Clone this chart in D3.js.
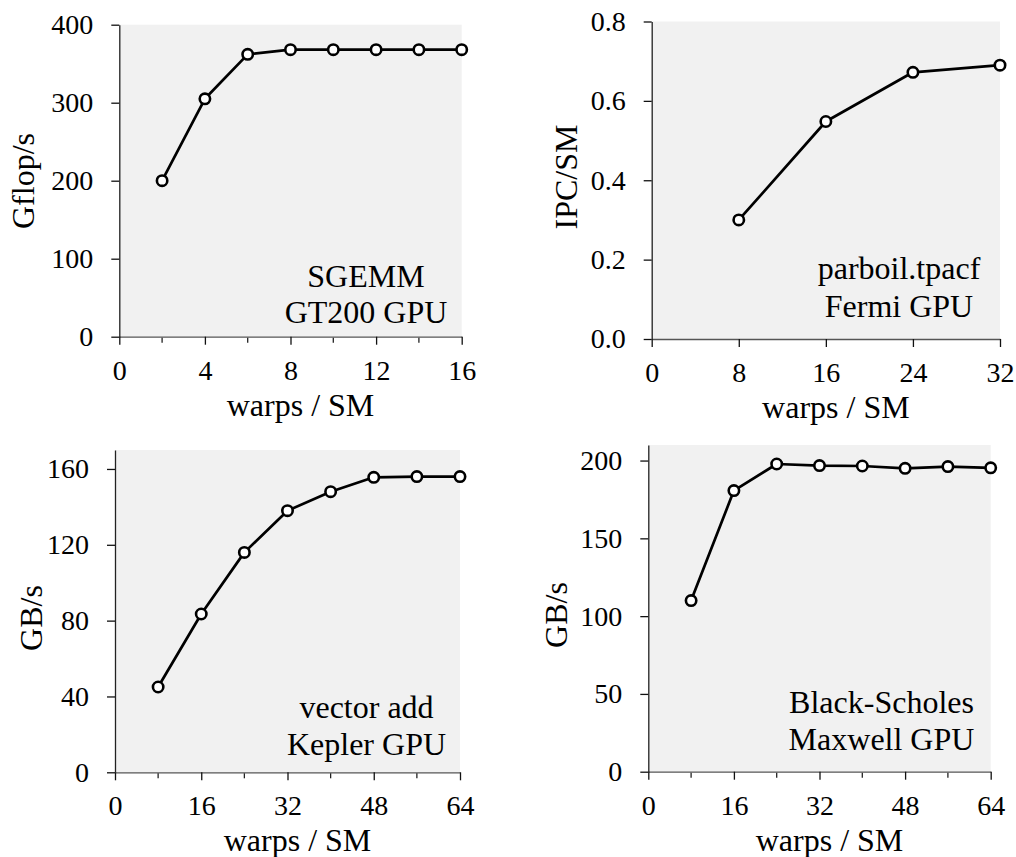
<!DOCTYPE html>
<html>
<head>
<meta charset="utf-8">
<script src="https://cdn.jsdelivr.net/npm/d3@7"></script>
<style>
  html, body { margin: 0; padding: 0; background: #ffffff; }
  svg { display: block; }
  text { font-family: "Liberation Serif", "Times New Roman", serif; fill: #000; }
</style>
</head>
<body>
<svg id="chart" width="1016" height="857"></svg>
<script>
// ---- Data ----
const sgemmWarps = [2, 4, 6, 8, 10, 12, 14, 16];
const sgemmGflops = [200, 305, 362, 368, 368, 368, 368, 368];
const sgemmXTicks = [0, 4, 8, 12, 16];
const sgemmXMinor = [2, 6, 10, 14];
const sgemmYTicks = [0, 100, 200, 300, 400];

const tpacfWarps = [8, 16, 24, 32];
const tpacfIPC = [0.30, 0.548, 0.672, 0.69];
const tpacfXTicks = [0, 8, 16, 24, 32];
const tpacfYTicks = [0.0, 0.2, 0.4, 0.6, 0.8];

const vecWarps = [8, 16, 24, 32, 40, 48, 56, 64];
const vecGBs = [45, 83.5, 116, 138, 148, 155.6, 156, 156];
const vecXTicks = [0, 16, 32, 48, 64];
const vecXMinor = [8, 24, 40, 56];
const vecYTicks = [0, 40, 80, 120, 160];

const bsWarps = [8, 16, 24, 32, 40, 48, 56, 64];
const bsGBs = [110, 180.7, 197.8, 196.8, 196.5, 195, 196.1, 195.3];
const bsXTicks = [0, 16, 32, 48, 64];
const bsXMinor = [8, 24, 40, 56];
const bsYTicks = [0, 50, 100, 150, 200];

const xLabel = "warps / SM";

// ---- Panels (layout) ----
const panels = [
  { x: sgemmWarps, y: sgemmGflops, xDom: [0, 16], yDom: [0, 400],
    xTicks: sgemmXTicks, xMinor: sgemmXMinor, yTicks: sgemmYTicks, yFmt: d3.format("d"),
    left: 119.3, right: 461.7, top: 24.7, bottom: 336.7,
    yLabel: "Gflop/s", yLabelX: 23, yLabelY: 181,
    note: ["SGEMM", "GT200 GPU"], noteX: 366, noteY: [286.7, 323.3] },
  { x: tpacfWarps, y: tpacfIPC, xDom: [0, 32], yDom: [0, 0.8],
    xTicks: tpacfXTicks, xMinor: [], yTicks: tpacfYTicks, yFmt: d3.format(".1f"),
    left: 651.7, right: 1000, top: 21.5, bottom: 339,
    yLabel: "IPC/SM", yLabelX: 566, yLabelY: 177,
    note: ["parboil.tpacf", "Fermi GPU"], noteX: 899, noteY: [278.5, 316.7] },
  { x: vecWarps, y: vecGBs, xDom: [0, 64], yDom: [0, 170],
    xTicks: vecXTicks, xMinor: vecXMinor, yTicks: vecYTicks, yFmt: d3.format("d"),
    left: 115, right: 460, top: 450, bottom: 772.3,
    yLabel: "GB/s", yLabelX: 31, yLabelY: 618,
    note: ["vector add", "Kepler GPU"], noteX: 366.5, noteY: [718, 755] },
  { x: bsWarps, y: bsGBs, xDom: [0, 64], yDom: [0, 210],
    xTicks: bsXTicks, xMinor: bsXMinor, yTicks: bsYTicks, yFmt: d3.format("d"),
    left: 648.3, right: 990.7, top: 445, bottom: 771.7,
    yLabel: "GB/s", yLabelX: 556, yLabelY: 615,
    note: ["Black-Scholes", "Maxwell GPU"], noteX: 881.5, noteY: [713, 750] }
];

const svg = d3.select("#chart");

panels.forEach(p => {
  const xs = d3.scaleLinear().domain(p.xDom).range([p.left, p.right]);
  const ys = d3.scaleLinear().domain(p.yDom).range([p.bottom, p.top]);
  const g = svg.append("g");

  // background
  g.append("rect")
    .attr("x", p.left).attr("y", p.top)
    .attr("width", p.right - p.left).attr("height", p.bottom - p.top)
    .attr("fill", "#f1f1f1");

  // x axis
  const xAxis = g.append("g").attr("transform", `translate(0,${p.bottom})`)
    .call(d3.axisBottom(xs).tickValues(p.xTicks).tickSize(8).tickPadding(15).tickSizeOuter(0));
  xAxis.select(".domain").attr("stroke", "#555").attr("stroke-width", 1.3);
  xAxis.selectAll(".tick line").attr("stroke", "#111").attr("stroke-width", 1.3);
  xAxis.selectAll(".tick text")
    .style("font-family", "'Liberation Serif', serif").style("font-size", "28px").attr("fill", "#000");

  // minor x ticks
  g.selectAll("line.minor").data(p.xMinor).enter().append("line")
    .attr("x1", d => xs(d)).attr("x2", d => xs(d))
    .attr("y1", p.bottom + 1).attr("y2", p.bottom + 6)
    .attr("stroke", "#222").attr("stroke-width", 1.3);

  // y axis
  const yAxis = g.append("g").attr("transform", `translate(${p.left},0)`)
    .call(d3.axisLeft(ys).tickValues(p.yTicks).tickFormat(p.yFmt).tickSize(8).tickPadding(18).tickSizeOuter(0));
  yAxis.select(".domain").attr("stroke", "#222").attr("stroke-width", 1.3);
  yAxis.selectAll(".tick line").attr("stroke", "#111").attr("stroke-width", 1.3);
  yAxis.selectAll(".tick text")
    .style("font-family", "'Liberation Serif', serif").style("font-size", "28px").attr("fill", "#000");

  // line
  const line = d3.line().x((d, i) => xs(p.x[i])).y(d => ys(d));
  g.append("path").datum(p.y)
    .attr("d", line).attr("fill", "none")
    .attr("stroke", "#000").attr("stroke-width", 2.7).attr("stroke-linejoin", "round");

  // points
  g.selectAll("circle.pt").data(p.y).enter().append("circle")
    .attr("cx", (d, i) => xs(p.x[i])).attr("cy", d => ys(d))
    .attr("r", 5.2).attr("fill", "#fff").attr("stroke", "#000").attr("stroke-width", 2.6);

  // x label
  g.append("text")
    .attr("x", (p.left + p.right) / 2 + 10).attr("y", p.bottom + 79)
    .attr("text-anchor", "middle").style("font-size", "32px")
    .text(xLabel);

  // y label
  g.append("text")
    .attr("transform", `translate(${p.yLabelX},${p.yLabelY}) rotate(-90)`)
    .attr("text-anchor", "middle").attr("dominant-baseline", "central")
    .style("font-size", "32px")
    .text(p.yLabel);

  // annotation
  p.note.forEach((t, i) => {
    g.append("text")
      .attr("x", p.noteX).attr("y", p.noteY[i])
      .attr("text-anchor", "middle").style("font-size", "32px")
      .text(t);
  });
});
</script>
</body>
</html>
